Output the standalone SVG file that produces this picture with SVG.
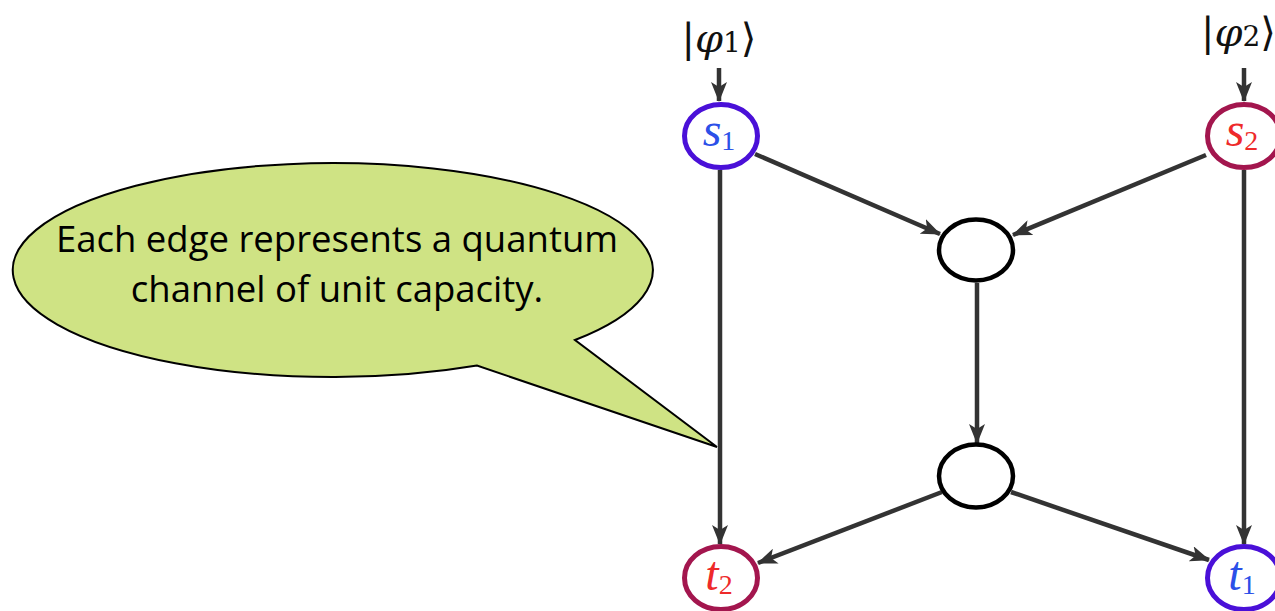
<svg xmlns="http://www.w3.org/2000/svg" width="1275" height="611" viewBox="0 0 1275 611">
<style>
.edge{stroke:#333;stroke-width:4.5;fill:none;marker-end:url(#arr)}
.nb{fill:#fff;stroke:#4a10d8;stroke-width:5}
.nr{fill:#fff;stroke:#a3164e;stroke-width:5}
.nk{fill:#fff;stroke:#000;stroke-width:4.5}
.lbl{font-family:"Liberation Serif","DejaVu Serif",serif;font-style:italic;font-size:48px}
.sub{font-style:normal;font-size:28px}
.ket{font-family:"DejaVu Serif","Liberation Serif",serif;font-size:40px;fill:#111}
.call{font-family:"Open Sans","Liberation Sans",Arial,sans-serif;font-size:36.5px;fill:#000}
</style>
<defs>
<marker id="arr" viewBox="0 0 20 16" markerWidth="20" markerHeight="16" refX="19" refY="8" orient="auto" markerUnits="userSpaceOnUse">
<path d="M0,0 L20,8 L0,16 L5,8 Z" fill="#333"/>
</marker>
</defs>
<rect width="1275" height="611" fill="#fff"/>
<g id="callout">
<path d="M575,340 A320 107 0 1 0 477,365.6 L717,447 Z" fill="#cfe384" stroke="#000" stroke-width="2"/>
<text class="call" x="337" y="252" text-anchor="middle">Each edge represents a quantum</text>
<text class="call" x="337" y="302" text-anchor="middle">channel of unit capacity.</text>
</g>
<g id="connectors">
<line class="edge" x1="719" y1="68" x2="719" y2="101"/>
<line class="edge" x1="1244" y1="68" x2="1244" y2="101"/>
<line class="edge" x1="755" y1="154" x2="940" y2="234"/>
<line class="edge" x1="1206" y1="155" x2="1013" y2="235"/>
<line class="edge" x1="720" y1="170" x2="720" y2="544"/>
<line class="edge" x1="1244" y1="170" x2="1244" y2="544"/>
<line class="edge" x1="977" y1="283" x2="977" y2="443"/>
<line class="edge" x1="942" y1="492" x2="758" y2="563"/>
<line class="edge" x1="1011" y1="492" x2="1209" y2="560"/>
</g>
<g id="in1"><text class="ket" x="719" y="52" text-anchor="middle">|<tspan font-style="italic">φ</tspan><tspan font-size="28">1</tspan>⟩</text></g>
<g id="in2"><text class="ket" x="1201" y="46">|<tspan font-style="italic">φ</tspan><tspan font-size="28">2</tspan>⟩</text></g>
<g id="s1"><ellipse class="nb" cx="721" cy="136" rx="36.5" ry="31.5"/><text class="lbl" x="719" y="146" text-anchor="middle" fill="#2b50e8">s<tspan class="sub" dy="4">1</tspan></text></g>
<g id="s2"><ellipse class="nr" cx="1244" cy="136" rx="36.5" ry="31.5"/><text class="lbl" x="1242" y="146" text-anchor="middle" fill="#ee2a2a">s<tspan class="sub" dy="4">2</tspan></text></g>
<g id="m1"><ellipse class="nk" cx="976" cy="250" rx="37" ry="30.5"/></g>
<g id="m2"><ellipse class="nk" cx="976" cy="476" rx="37" ry="31.5"/></g>
<g id="t2"><ellipse class="nr" cx="721" cy="578" rx="36.5" ry="31.5"/><text class="lbl" x="719" y="590" text-anchor="middle" fill="#ee2a2a">t<tspan class="sub" dy="4">2</tspan></text></g>
<g id="t1"><ellipse class="nb" cx="1244" cy="578" rx="36.5" ry="31.5"/><text class="lbl" x="1242" y="590" text-anchor="middle" fill="#2b50e8">t<tspan class="sub" dy="4">1</tspan></text></g>
</svg>
